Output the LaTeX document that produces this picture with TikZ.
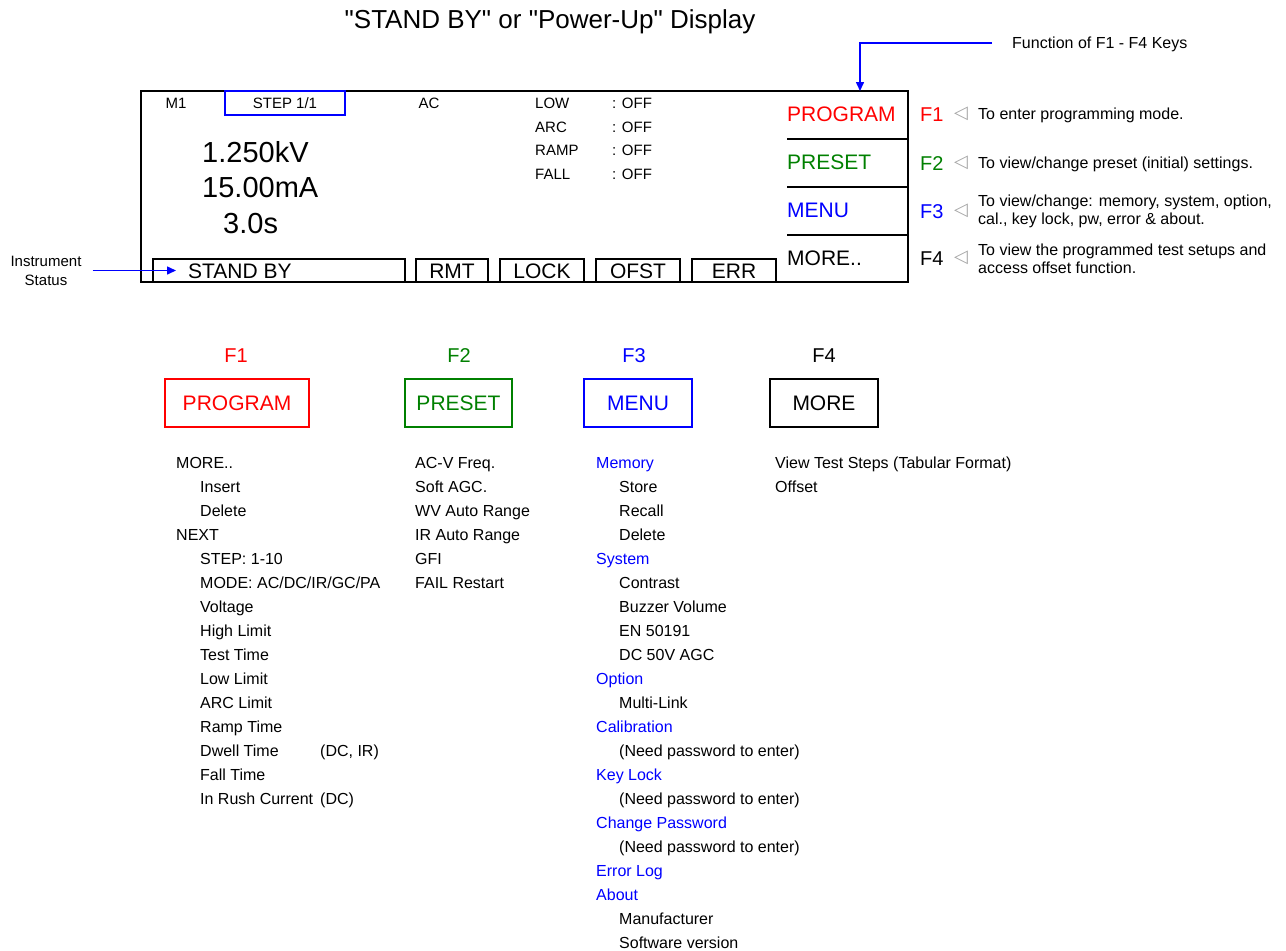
\documentclass[tikz,border=0pt]{standalone}
\usepackage{fontspec}
\setmainfont{Liberation Sans}
\newfontfamily\plainfont{Liberation Sans}
\newfontfamily\symfont{DejaVu Sans}
\usetikzlibrary{arrows.meta}
\definecolor{keyred}{RGB}{255,0,0}
\definecolor{keygreen}{RGB}{0,128,0}
\definecolor{keyblue}{RGB}{0,0,255}
\definecolor{trigray}{RGB}{165,165,165}
\tikzset{
  lbl/.style={inner sep=0pt, font=\fontsize{15}{18}\selectfont, text height=10.7pt, text depth=0pt},
  item/.style={inner sep=0pt, anchor=west, font=\fontsize{16}{19}\selectfont, text height=11.5pt, text depth=0pt},
  desc/.style={inner sep=0pt, anchor=west, align=left, font=\fontsize{16}{18.5}\selectfont},
  big/.style={inner sep=0pt, anchor=west, font=\fontsize{29}{34}\selectfont, text height=20.8pt, text depth=0pt},
  keytxt/.style={inner sep=0pt, font=\fontsize{21}{25}\selectfont, text height=15pt, text depth=0pt},
  fkey/.style={inner sep=0pt, font=\fontsize{20}{24}\selectfont, text height=14.3pt, text depth=0pt},
  statbox/.style={draw, line width=1.5pt, minimum height=23pt, inner sep=0pt},
  keybox/.style={draw, line width=1.5pt, minimum height=48pt, inner sep=0pt},
  tri/.style={inner sep=0pt, text=trigray, font=\symfont\fontsize{18}{20}\selectfont},
  ptr/.style={draw=keyblue, line width=1.5pt, -{Triangle[length=9pt,width=8pt]}}
}
\begin{document}
\begin{tikzpicture}[x=1pt,y=-1pt]
\useasboundingbox (0,0) rectangle (1286,951);
\node[inner sep=0pt, font=\plainfont\fontsize{26}{31}\selectfont, text height=18.6pt, text depth=0pt] (title) at (550,19) {"STAND BY" or "Power-Up" Display};
% display
\node[draw, line width=1.5pt, minimum width=767pt, minimum height=191pt, inner sep=0pt] (lcd) at (524.5,186.5) {};
\node[lbl] (m1) at (176,103) {M1};
\node[lbl, draw=keyblue, line width=1.5pt, minimum width=120pt, minimum height=24pt] (step) at (285,103) {STEP 1/1};
\node[lbl] (mode) at (429,103) {AC};
\foreach \t [count=\i] in {LOW,ARC,RAMP,FALL} {
  \node[lbl, anchor=west] (st-\i) at (535,{103+23.7*(\i-1)}) {\t};
  \node[lbl, anchor=west] (off-\i) at (612,{103+23.7*(\i-1)}) {: OFF};
}
\node[big] (volt) at (202,152) {1.250kV};
\node[big] (curr) at (202,187.5) {15.00mA};
\node[big] (time) at (223,222.7) {3.0s};
\node[statbox, minimum width=252pt] (sb) at (279,270.5) {};
\node[keytxt, anchor=west] (sbtxt) at (188,270.5) {STAND BY};
\foreach \x/\w/\t in {452/72/RMT,542/84/LOCK,638/84/OFST,734/84/ERR}
  \node[statbox, keytxt, minimum width=\w pt] (\t) at (\x,270.5) {\t};
\foreach \y in {139,187,235}
  \draw[line width=1.5pt] (787,\y) -- (908,\y);
\foreach \c/\y/\t [count=\i] in {keyred/114/PROGRAM,keygreen/162/PRESET,keyblue/210/MENU,black/258/MORE..}
  \node[keytxt, anchor=west, text=\c] (p\i) at (787,\y) {\t};
% function keys
\foreach \c/\y/\n in {keyred/114/1,keygreen/163/2,keyblue/211/3,black/258/4} {
  \node[fkey, anchor=west, text=\c] (f\n) at (920,\y) {F\n};
  \node[tri] (t\n) at (961,\y) {◁};
}
\node[item] (d1) at (978,114) {To enter programming mode.};
\node[item] (d2) at (978,163) {To view/change preset (initial) settings.};
\node[desc] (d3) at (978,211.5) {To view/change: memory, system, option,\\cal., key lock, pw, error \& about.};
\node[desc] (d4) at (978,259) {To view the programmed test setups and\\access offset function.};
\node[item] (fnkeys) at (1012,43) {Function of F1 - F4 Keys};
\coordinate (fntip) at (860,91);
\draw[ptr, shorten <=20pt] (fnkeys.west) -| (fntip);
\node[align=center, inner sep=0pt, font=\fontsize{15}{19}\selectfont] (inst) at (46,271.4) {Instrument\\Status};
\draw[ptr, shorten <=11pt, shorten >=12pt] (inst.east |- sbtxt) -- (sbtxt.west);
% key menus
\foreach \c/\x/\w/\t/\fx [count=\i] in {keyred/237/144/PROGRAM/236,keygreen/458.5/107/PRESET/459,keyblue/638/108/MENU/634,black/824/108/MORE/824} {
  \node[fkey, text=\c] (fk\i) at (\fx,355) {F\i};
  \node[keybox, keytxt, draw=\c, text=\c, minimum width=\w pt] (k\i) at (\x,403) {\t};
}
\foreach \d/\t [count=\i] in {0/MORE..,1/Insert,1/Delete,0/NEXT,1/STEP: 1-10,1/{MODE: AC/DC/IR/GC/PA},1/Voltage,1/High Limit,1/Test Time,1/Low Limit,1/ARC Limit,1/Ramp Time,1/Dwell Time,1/Fall Time,1/In Rush Current}
  \node[item] (pg-\i) at ({176+24*\d},{439+24*\i}) {\t};
\node[item] (pg-dw) at (320,751) {(DC, IR)};
\node[item] (pg-ir) at (320,799) {(DC)};
\foreach \t [count=\i] in {AC-V Freq.,Soft AGC.,WV Auto Range,IR Auto Range,GFI,FAIL Restart}
  \node[item] (ps-\i) at (415,{439+24*\i}) {\t};
\foreach \d/\t [count=\i] in {0/Memory,1/Store,1/Recall,1/Delete,0/System,1/Contrast,1/Buzzer Volume,1/EN 50191,1/DC 50V AGC,0/Option,1/Multi-Link,0/Calibration,1/(Need password to enter),0/Key Lock,1/(Need password to enter),0/Change Password,1/(Need password to enter),0/Error Log,0/About,1/Manufacturer,1/Software version} {
  \ifnum\d=0
    \node[item, text=keyblue] (mn-\i) at (596,{439+24*\i}) {\t};
  \else
    \node[item] (mn-\i) at (619,{439+24*\i}) {\t};
  \fi
}
\node[item] (mr-1) at (775,463) {View Test Steps (Tabular Format)};
\node[item] (mr-2) at (775,487) {Offset};
\end{tikzpicture}
\end{document}
